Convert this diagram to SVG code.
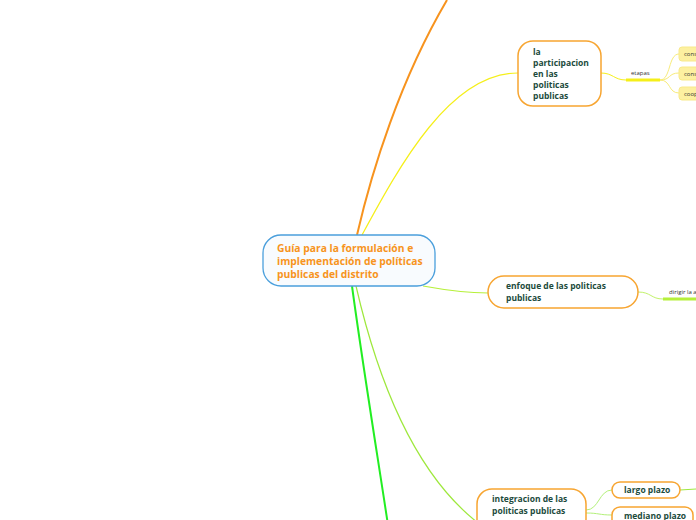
<svg xmlns="http://www.w3.org/2000/svg" width="696" height="520" viewBox="0 0 696 520">
<style>
.t{font-family:"Open Sans","Noto Sans","Liberation Sans",sans-serif;font-weight:bold;fill:#1c4b3c;font-size:8.5px}
.c{font-family:"Open Sans","Noto Sans","Liberation Sans",sans-serif;font-weight:bold;fill:#f7941d;font-size:10.3px}
.s{font-family:"Open Sans","Noto Sans","Liberation Sans",sans-serif;fill:#333;font-size:6px}
.n{fill:#fff;stroke:#f7a531;stroke-width:1.5}
.y{fill:#fdf0a0;stroke:#f8e98a;stroke-width:1}
path{fill:none}
</style>
<rect width="696" height="520" fill="#fff"/>
<g id="connectors">
<path d="M357,235 C372,170 400,80 447,0" stroke="#f7931e" stroke-width="2"/>
<path d="M362,235 C400,165 450,73 518,73" stroke="#f5ef1a" stroke-width="1.2"/>
<path d="M423,286 C445,290 465,293 488,293" stroke="#b6f03a" stroke-width="1.2"/>
<path d="M356,286 C380,390 420,480 482,526" stroke="#9ee83c" stroke-width="1.2"/>
<path d="M352,286 C362,360 375,440 388,525" stroke="#22ee22" stroke-width="2"/>
<path d="M601,73 C613,73 614,80 626,80" stroke="#f5ef1a" stroke-width="1"/>
<path d="M626,80 L660,80" stroke="#f5ef1a" stroke-width="3"/>
<path d="M660,80 C671,80 668,54 679,54" stroke="#f8ec7a" stroke-width="1"/>
<path d="M660,80 C671,80 668,73 679,73" stroke="#f8ec7a" stroke-width="1"/>
<path d="M660,80 C671,80 668,93 679,93" stroke="#f8ec7a" stroke-width="1"/>
<path d="M638,292 C651,292 651,299 663,299" stroke="#c2f26a" stroke-width="1"/>
<path d="M663,299 L696,299" stroke="#b6f03a" stroke-width="3"/>
<path d="M586,510 C599,510 599,490 612,490" stroke="#b3f07a" stroke-width="1"/>
<path d="M586,513 C599,513 599,515 612,515" stroke="#b3f07a" stroke-width="1"/>
<path d="M680,490 L696,489" stroke="#9ee83c" stroke-width="1"/>
</g>
<g id="central">
<rect x="263" y="235" width="172" height="51" rx="18" fill="#f8fbfe" stroke="#4a9fdc" stroke-width="1.3"/>
<text class="c" x="277" y="252">Guía para la formulación e</text>
<text class="c" x="277" y="265">implementación de políticas</text>
<text class="c" x="277" y="278">publicas del distrito</text>
</g>
<g id="participacion">
<rect class="n" x="518" y="41" width="83" height="65" rx="15"/>
<text class="t" x="533" y="55">la</text>
<text class="t" x="533" y="66">participacion</text>
<text class="t" x="533" y="77">en las</text>
<text class="t" x="533" y="88">politicas</text>
<text class="t" x="533" y="99">publicas</text>
</g>
<g id="etapas">
<text class="s" x="631" y="75">etapas</text>
</g>
<g id="cons1">
<rect class="y" x="679" y="47" width="30" height="14" rx="3"/>
<text class="s" x="684" y="56">cons</text>
</g>
<g id="cons2">
<rect class="y" x="679" y="67" width="30" height="13" rx="3"/>
<text class="s" x="684" y="75.5">cons</text>
</g>
<g id="coop">
<rect class="y" x="679" y="87" width="30" height="13" rx="3"/>
<text class="s" x="684" y="95.5">coop</text>
</g>
<g id="enfoque">
<rect class="n" x="488" y="276" width="150" height="32" rx="16"/>
<text class="t" x="506" y="289">enfoque de las politicas</text>
<text class="t" x="506" y="301">publicas</text>
</g>
<g id="dirigir">
<text class="s" x="669" y="294">dirigir la a</text>
</g>
<g id="integracion">
<rect class="n" x="477" y="489" width="109" height="45" rx="15"/>
<text class="t" x="492" y="502">integracion de las</text>
<text class="t" x="492" y="514">politicas publicas</text>
</g>
<g id="largo">
<rect class="n" x="612" y="482" width="68" height="16" rx="8"/>
<text class="t" x="624" y="493">largo plazo</text>
</g>
<g id="mediano">
<rect class="n" x="612" y="507" width="81" height="20" rx="8"/>
<text class="t" x="624" y="519">mediano plazo</text>
</g>
</svg>
